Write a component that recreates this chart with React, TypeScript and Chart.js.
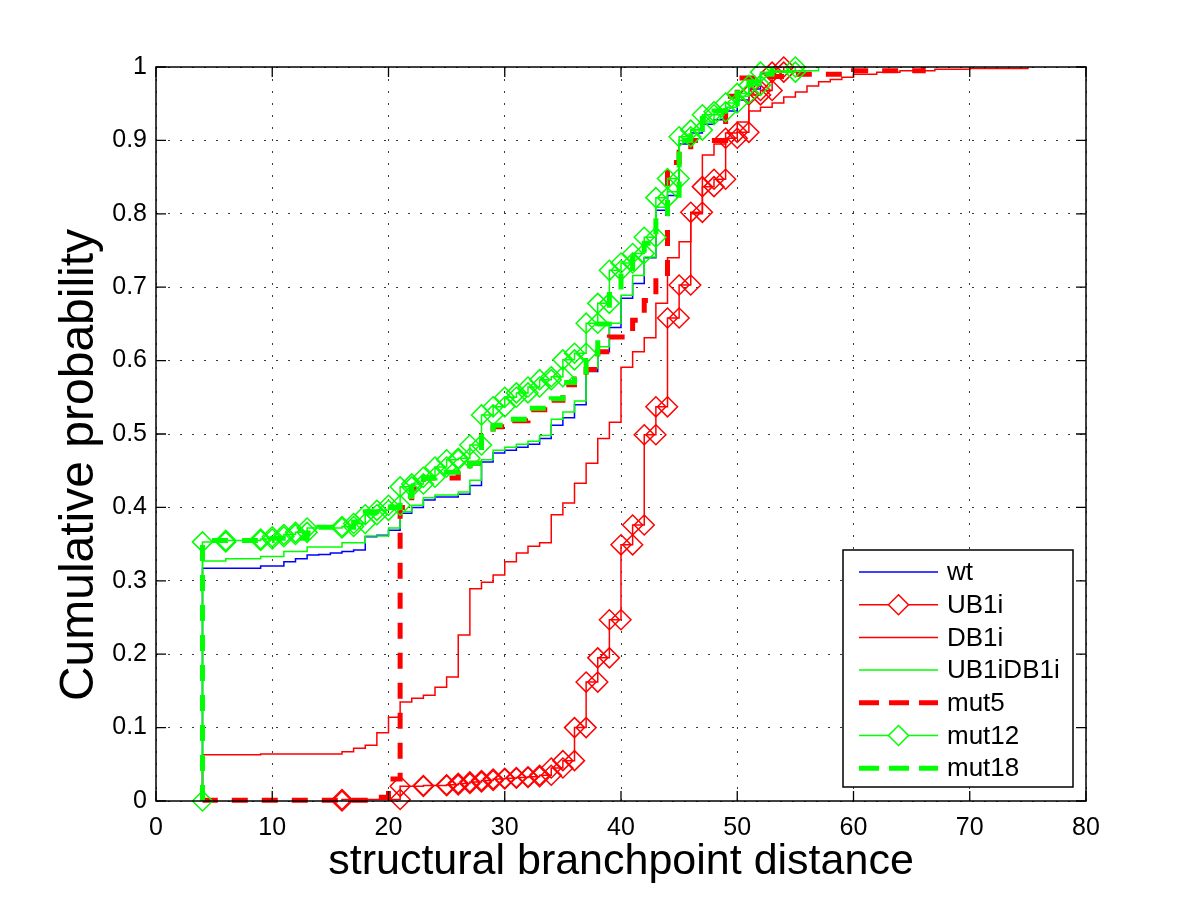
import React, { useEffect, useRef } from "react";
import { Chart, registerables } from "chart.js";

Chart.register(...registerables);

const FONT = "'Liberation Sans', Arial, Helvetica, sans-serif";

const xTickLabels = ["0", "10", "20", "30", "40", "50", "60", "70", "80"];
const yTickLabels = ["0", "0.1", "0.2", "0.3", "0.4", "0.5", "0.6", "0.7", "0.8", "0.9", "1"];
const xAxisTitle = "structural branchpoint distance";
const yAxisTitle = "Cumulative probability";

// Each series: step positions (x) and cumulative probability after the step (y)
const wtX = [4, 9, 11, 12, 13, 14, 15, 16, 17, 18, 19, 20, 21, 22, 23, 24, 26, 27, 28, 29, 30, 31, 32, 33, 34, 35, 36, 37, 38, 39, 40, 41, 42, 43, 44, 45, 46, 47, 48, 49, 50, 51, 52, 53];
const wtY = [0.317, 0.32, 0.326, 0.33, 0.335, 0.336, 0.338, 0.34, 0.342, 0.36, 0.362, 0.369, 0.392, 0.40, 0.41, 0.414, 0.418, 0.43, 0.462, 0.474, 0.478, 0.482, 0.486, 0.494, 0.512, 0.522, 0.54, 0.585, 0.612, 0.645, 0.685, 0.705, 0.74, 0.805, 0.825, 0.895, 0.91, 0.922, 0.928, 0.94, 0.955, 0.97, 0.99, 1.0];

const ub1iX = [16, 21, 23, 25, 26, 27, 28, 29, 30, 31, 32, 33, 34, 35, 36, 37, 38, 39, 40, 41, 42, 43, 44, 45, 46, 47, 48, 49, 50, 51, 52, 53, 54];
const ub1iY = [0.002, 0.02, 0.021, 0.022, 0.024, 0.026, 0.028, 0.03, 0.031, 0.032, 0.033, 0.035, 0.045, 0.055, 0.10, 0.162, 0.195, 0.247, 0.349, 0.376, 0.499, 0.537, 0.658, 0.703, 0.802, 0.837, 0.847, 0.903, 0.911, 0.962, 0.968, 0.993, 1.0];

const db1iX = [4, 9, 16, 17, 18, 19, 20, 21, 22, 23, 24, 25, 26, 27, 28, 29, 30, 31, 32, 33, 34, 35, 36, 37, 38, 39, 40, 41, 42, 43, 44, 45, 46, 47, 48, 49, 50, 51, 52, 53, 54, 55, 56, 57, 58, 59, 60, 62, 64, 67, 70, 75];
const db1iY = [0.063, 0.064, 0.067, 0.072, 0.076, 0.093, 0.114, 0.135, 0.140, 0.144, 0.155, 0.169, 0.226, 0.289, 0.298, 0.308, 0.326, 0.338, 0.347, 0.352, 0.39, 0.406, 0.433, 0.46, 0.494, 0.516, 0.591, 0.612, 0.631, 0.678, 0.74, 0.762, 0.80, 0.88, 0.895, 0.91, 0.925, 0.94, 0.945, 0.951, 0.959, 0.966, 0.974, 0.98, 0.983, 0.986, 0.99, 0.993, 0.995, 0.997, 0.998, 1.0];

const ub1idb1iX = [4, 6, 9, 11, 13, 16, 18, 20, 21, 22, 23, 24, 26, 27, 28, 29, 30, 31, 32, 33, 34, 35, 36, 37, 38, 39, 40, 41, 42, 43, 44, 45, 46, 47, 48, 49, 50, 51, 52, 53, 57];
const ub1idb1iY = [0.327, 0.33, 0.333, 0.34, 0.346, 0.352, 0.361, 0.372, 0.394, 0.403, 0.413, 0.417, 0.421, 0.437, 0.465, 0.478, 0.482, 0.486, 0.49, 0.498, 0.52, 0.53, 0.545, 0.59, 0.619, 0.651, 0.689, 0.716, 0.741, 0.809, 0.83, 0.90, 0.915, 0.925, 0.935, 0.945, 0.96, 0.975, 0.99, 0.995, 1.0];

const mut5X = [4, 18, 20, 21, 22, 23, 26, 27, 28, 29, 30, 32, 34, 35, 36, 37, 38, 39, 41, 42, 43, 44, 45, 46, 49, 50, 52, 55, 60, 66];
const mut5Y = [0.001, 0.005, 0.03, 0.40, 0.425, 0.44, 0.448, 0.46, 0.498, 0.51, 0.518, 0.533, 0.546, 0.567, 0.575, 0.588, 0.612, 0.632, 0.655, 0.682, 0.713, 0.87, 0.884, 0.90, 0.96, 0.985, 0.987, 0.99, 0.995, 1.0];

const mut12X = [4, 6, 9, 10, 11, 12, 13, 16, 17, 18, 19, 20, 21, 22, 23, 24, 25, 26, 27, 28, 29, 30, 31, 32, 33, 34, 35, 36, 37, 38, 39, 40, 41, 42, 43, 44, 45, 46, 47, 48, 49, 50, 51, 52, 55];
const mut12Y = [0.353, 0.355, 0.357, 0.36, 0.363, 0.366, 0.372, 0.374, 0.378, 0.39, 0.396, 0.403, 0.428, 0.432, 0.441, 0.455, 0.465, 0.467, 0.485, 0.526, 0.537, 0.55, 0.556, 0.564, 0.574, 0.578, 0.601, 0.61, 0.651, 0.678, 0.723, 0.733, 0.746, 0.768, 0.822, 0.848, 0.905, 0.914, 0.935, 0.939, 0.951, 0.964, 0.975, 0.993, 1.0];

const mut18X = [4, 10, 13, 14, 17, 18, 20, 21, 22, 23, 24, 26, 27, 28, 29, 30, 32, 34, 35, 36, 37, 38, 39, 40, 41, 42, 43, 44, 45, 46, 47, 48, 49, 50, 51, 52, 53];
const mut18Y = [0.355, 0.358, 0.365, 0.373, 0.38, 0.394, 0.40, 0.415, 0.428, 0.44, 0.448, 0.452, 0.46, 0.50, 0.512, 0.52, 0.535, 0.548, 0.57, 0.58, 0.60, 0.65, 0.69, 0.72, 0.74, 0.76, 0.80, 0.82, 0.90, 0.915, 0.93, 0.94, 0.95, 0.965, 0.98, 0.99, 1.0];

const seriesLabels = ["wt", "UB1i", "DB1i", "UB1iDB1i", "mut5", "mut12", "mut18"];

// staircase vertices (MATLAB cdfplot style)
function stairs(xs: number[], ys: number[]) {
  const pts: { x: number; y: number }[] = [];
  let prev = 0;
  for (let i = 0; i < xs.length; i++) {
    pts.push({ x: xs[i], y: prev });
    pts.push({ x: xs[i], y: ys[i] });
    prev = ys[i];
  }
  return pts;
}

const BLUE = "#0000ff";
const RED = "#ff0000";
const GREEN = "#00ff00";

const legendDash = [20, 10];

const framePlugin = {
  id: "matlabFrame",
  afterDatasetsDraw(chart: any) {
    const { ctx, chartArea: a, scales } = chart;
    ctx.save();
    ctx.setLineDash([]);
    ctx.strokeStyle = "#000";
    ctx.lineWidth = 1.5;
    ctx.strokeRect(a.left, a.top, a.right - a.left, a.bottom - a.top);
    const T = 10;
    ctx.lineWidth = 1.3;
    ctx.beginPath();
    scales.x.ticks.forEach((t: any) => {
      const px = scales.x.getPixelForValue(t.value);
      ctx.moveTo(px, a.bottom);
      ctx.lineTo(px, a.bottom - T);
      ctx.moveTo(px, a.top);
      ctx.lineTo(px, a.top + T);
    });
    scales.y.ticks.forEach((t: any) => {
      const py = scales.y.getPixelForValue(t.value);
      ctx.moveTo(a.left, py);
      ctx.lineTo(a.left + T, py);
      ctx.moveTo(a.right, py);
      ctx.lineTo(a.right - T, py);
    });
    ctx.stroke();

    // y axis title
    ctx.save();
    ctx.translate(80, 465);
    ctx.rotate(-Math.PI / 2);
    ctx.fillStyle = "#000";
    ctx.font = `48px ${FONT}`;
    ctx.textAlign = "center";
    ctx.textBaseline = "middle";
    ctx.fillText(yAxisTitle, 0, 0);
    ctx.restore();

    // legend box
    const L = { left: 843, top: 550, right: 1073, bottom: 787 };
    const rowTop = 572;
    const rowStep = 32.7;
    const lx0 = 859;
    const lx1 = 938;
    const tx = 947;
    ctx.fillStyle = "#fff";
    ctx.fillRect(L.left, L.top, L.right - L.left, L.bottom - L.top);
    ctx.strokeStyle = "#000";
    ctx.lineWidth = 1.5;
    ctx.strokeRect(L.left, L.top, L.right - L.left, L.bottom - L.top);
    chart.data.datasets.forEach((ds: any, i: number) => {
      const y = rowTop + i * rowStep;
      ctx.save();
      ctx.strokeStyle = ds.borderColor;
      ctx.lineWidth = ds.borderWidth;
      ctx.setLineDash(ds.borderDash && ds.borderDash.length ? legendDash : []);
      ctx.beginPath();
      ctx.moveTo(lx0, y);
      ctx.lineTo(lx1, y);
      ctx.stroke();
      ctx.setLineDash([]);
      if (ds.pointRadius > 0) {
        ctx.lineWidth = ds.pointBorderWidth;
        ctx.fillStyle = "#fff";
        ctx.beginPath();
        const cx = (lx0 + lx1) / 2;
        ctx.moveTo(cx, y - ds.pointRadius);
        ctx.lineTo(cx + ds.pointRadius, y);
        ctx.lineTo(cx, y + ds.pointRadius);
        ctx.lineTo(cx - ds.pointRadius, y);
        ctx.closePath();
        ctx.fill();
        ctx.stroke();
      }
      ctx.restore();
      ctx.fillStyle = "#000";
      ctx.font = `26px ${FONT}`;
      ctx.textAlign = "left";
      ctx.textBaseline = "middle";
      ctx.fillText(ds.label, tx, y + 1);
    });
    ctx.restore();
  },
};

export default function App() {
  const canvasRef = useRef<HTMLCanvasElement | null>(null);

  useEffect(() => {
    const canvas = canvasRef.current;
    if (!canvas) return;

    const defs = [
      { xs: wtX, ys: wtY, color: BLUE, width: 1.5, dash: [] as number[], marker: false },
      { xs: ub1iX, ys: ub1iY, color: RED, width: 1.5, dash: [] as number[], marker: true },
      { xs: db1iX, ys: db1iY, color: RED, width: 1.5, dash: [] as number[], marker: false },
      { xs: ub1idb1iX, ys: ub1idb1iY, color: GREEN, width: 1.5, dash: [] as number[], marker: false },
      { xs: mut5X, ys: mut5Y, color: RED, width: 5, dash: [16, 14], marker: false },
      { xs: mut12X, ys: mut12Y, color: GREEN, width: 1.5, dash: [] as number[], marker: true },
      { xs: mut18X, ys: mut18Y, color: GREEN, width: 5, dash: [16, 14], marker: false },
    ];

    const datasets = defs.map((d, i) => ({
      label: seriesLabels[i],
      data: stairs(d.xs, d.ys),
      borderColor: d.color,
      backgroundColor: d.color,
      borderWidth: d.width,
      borderDash: d.dash,
      fill: false,
      tension: 0,
      pointStyle: "rectRot" as const,
      pointRadius: d.marker ? 10 : 0,
      pointHoverRadius: d.marker ? 10 : 0,
      pointBorderColor: d.color,
      pointBackgroundColor: "rgba(0,0,0,0)",
      pointBorderWidth: 1.5,
      clip: false as any,
      order: defs.length - 1 - i,
    }));

    const tickFont = { family: FONT, size: 25 };
    const titleFont = { family: FONT, size: 43 };

    const chart = new Chart(canvas, {
      type: "line",
      data: { datasets },
      options: {
        animation: false,
        responsive: false,
        maintainAspectRatio: false,
        devicePixelRatio: 1,
        events: [],
        layout: { padding: { left: 0, top: 67, right: 114, bottom: 0 } },
        plugins: {
          legend: { display: false },
          tooltip: { enabled: false },
        },
        scales: {
          x: {
            type: "linear",
            min: 0,
            max: 80,
            ticks: {
              stepSize: 10,
              padding: 12,
              color: "#000",
              font: tickFont,
              maxRotation: 0,
              autoSkip: false,
              callback: (_v: any, i: number) => xTickLabels[i],
            },
            grid: { color: "#3a3a3a", lineWidth: 1, drawTicks: false, borderDash: [2, 10] } as any,
            border: { display: false, dash: [2, 10] },
            title: {
              display: true,
              text: xAxisTitle,
              color: "#000",
              font: titleFont,
              padding: { top: 0, bottom: 15 },
            },
            afterFit: (s: any) => {
              s.height = 102;
            },
          },
          y: {
            type: "linear",
            min: 0,
            max: 1,
            ticks: {
              stepSize: 0.1,
              padding: 9,
              color: "#000",
              font: tickFont,
              autoSkip: false,
              callback: (_v: any, i: number) => yTickLabels[i],
            },
            grid: { color: "#3a3a3a", lineWidth: 1, drawTicks: false, borderDash: [2, 10] } as any,
            border: { display: false, dash: [2, 10] },
            title: { display: false, text: yAxisTitle },
            afterFit: (s: any) => {
              s.width = 156;
            },
          },
        },
      },
      plugins: [framePlugin],
    });

    return () => {
      chart.destroy();
    };
  }, []);

  return (
    <div style={{ position: "absolute", left: 0, top: 0, width: 1200, height: 903, background: "#fff" }}>
      <canvas ref={canvasRef} width={1200} height={903} style={{ display: "block", width: 1200, height: 903 }} />
    </div>
  );
}
